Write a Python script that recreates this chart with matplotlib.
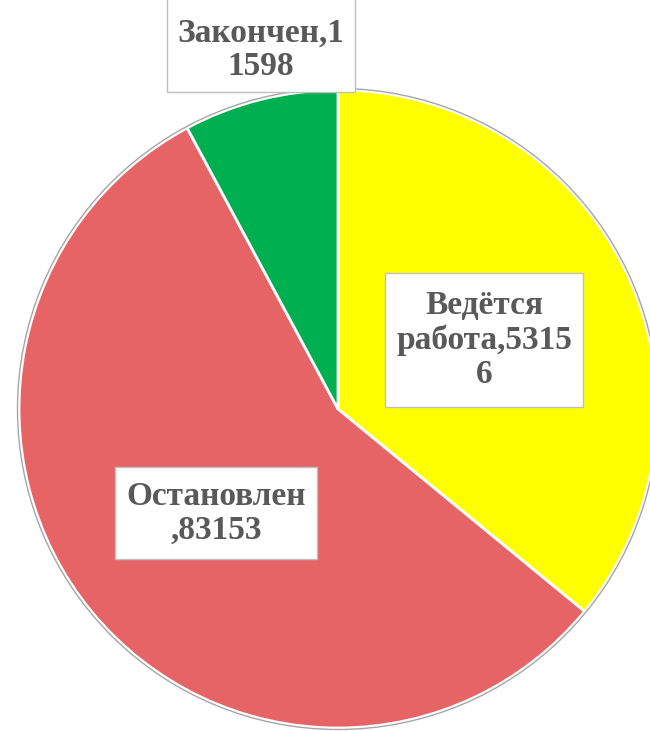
import textwrap
import matplotlib
matplotlib.use("Agg")
import matplotlib.pyplot as plt
from matplotlib.patches import Rectangle, Circle

categories = ["Ведётся работа", "Остановлен", "Закончен"]
values = [53156, 83153, 11598]
colors = ["#FFFF00", "#E66466", "#00B050"]
wrap_widths = [11, 10, 10]


def wrap_label(text, width):
    lines = []
    for line in textwrap.wrap(text, width=width, break_long_words=False):
        lines += [line[i:i + width] for i in range(0, len(line), width)]
    return "\n".join(lines)


def main():
    W, H = 650, 731
    fig = plt.figure(figsize=(W / 100, H / 100), dpi=100)
    ax = fig.add_axes([0, 0, 1, 1])

    cx, cy, r = 338, H - 409, 319
    ax.pie(values, colors=colors, startangle=90, counterclock=False,
           center=(cx, cy), radius=r, frame=True,
           wedgeprops=dict(edgecolor="white", linewidth=2))
    ax.add_patch(Circle((cx, cy), r + 1.5, fill=False, edgecolor="#A6A6A6", linewidth=1))
    ax.set_xlim(0, W)
    ax.set_ylim(0, H)
    ax.set_aspect("equal")
    ax.axis("off")

    # label boxes (left, top, right, bottom) in pixels
    boxes = [(385, 273, 583, 407), (115, 467, 317, 559), (167, -10, 355, 92)]
    for cat, val, width, (x0, y0, x1, y1) in zip(categories, values, wrap_widths, boxes):
        label = wrap_label(f"{cat},{val}", width)
        ax.add_patch(Rectangle((x0, H - y1), x1 - x0, y1 - y0, facecolor="white",
                               edgecolor="#BFBFBF", linewidth=1, zorder=3))
        ax.text((x0 + x1) / 2, H - (y0 + y1) / 2 - (9 if y0 < 0 else 0), label,
                ha="center", va="center", fontsize=24, fontweight="bold",
                family="Liberation Serif", color="#595959", linespacing=1.12, zorder=4)

    fig.savefig("out.png", dpi=100)


if __name__ == "__main__":
    main()
